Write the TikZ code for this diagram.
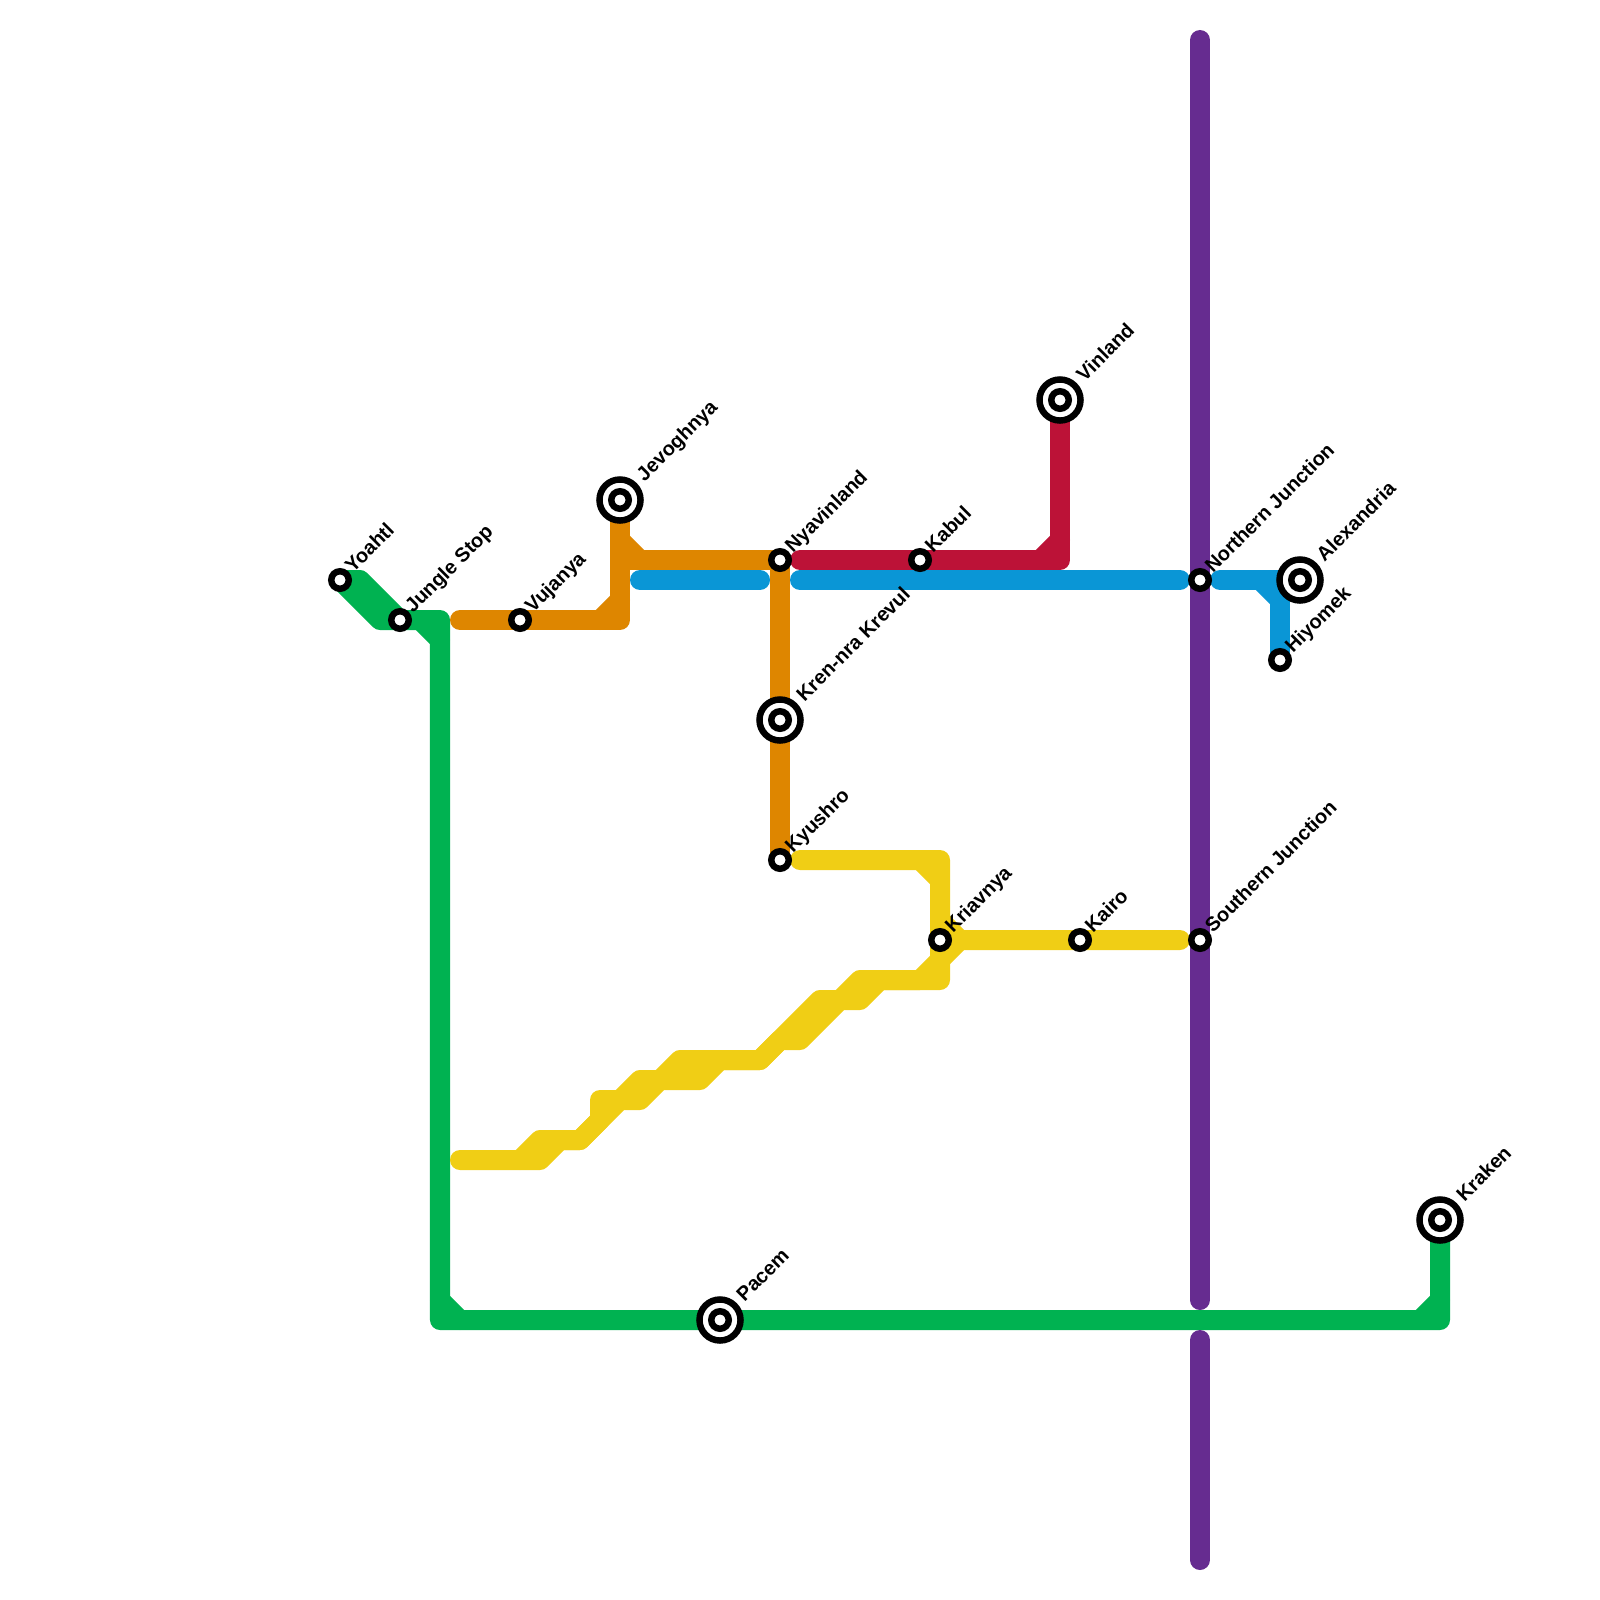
\documentclass[tikz,border=0pt]{standalone}
\usepackage{fontspec}
\usepackage{xcolor}
\setmainfont{Liberation Sans}
\usetikzlibrary{backgrounds}

\definecolor{linegreen}{HTML}{00B251}
\definecolor{lineorange}{HTML}{DE8600}
\definecolor{lineblue}{HTML}{0A96D6}
\definecolor{linered}{HTML}{BC1237}
\definecolor{linepurple}{HTML}{662C90}
\definecolor{lineyellow}{HTML}{F0CE15}

\begin{document}
\begin{tikzpicture}[
  x=0.025cm, y=-0.025cm,
  rail/.style={line width=14.23pt, line cap=round, line join=round},
  stn/.style={circle, draw=black, fill=white, line width=4.6pt, inner sep=0pt, outer sep=0pt, minimum size=12.45pt},
  hub/.style={circle, draw=black, fill=white, line width=4.6pt, inner sep=0pt, outer sep=0pt, minimum size=29.2pt},
  lbl/.style={rotate=45, anchor=base west, inner sep=0pt, font=\fontsize{14.2}{17}\selectfont\bfseries}
]
\useasboundingbox (0,0) rectangle (1600,1600);

\node[hub] (jevoghnya) at (620,500) {};
\node[hub] (vinland) at (1060,400) {};
\node[hub] (alexandria) at (1300,580) {};
\node[hub] (krennra) at (780,720) {};
\node[hub] (pacem) at (720,1320) {};
\node[hub] (kraken) at (1440,1220) {};
\node[stn] (jevoghnyain) at (jevoghnya.center) {};
\node[stn] (vinlandin) at (vinland.center) {};
\node[stn] (alexandriain) at (alexandria.center) {};
\node[stn] (krennrain) at (krennra.center) {};
\node[stn] (pacemin) at (pacem.center) {};
\node[stn] (krakenin) at (kraken.center) {};
\node[stn] (yoahtl) at (340,580) {};
\node[stn] (jungle) at (400,620) {};
\node[stn] (vujanya) at (520,620) {};
\node[stn] (nyavinland) at (780,560) {};
\node[stn] (kabul) at (920,560) {};
\node[stn] (northern) at (1200,580) {};
\node[stn] (hiyomek) at (1280,660) {};
\node[stn] (kyushro) at (780,860) {};
\node[stn] (kriavnya) at (940,940) {};
\node[stn] (kairo) at (1080,940) {};
\node[stn] (southern) at (1200,940) {};

% labels
\node[lbl] (yoahtl-l) at ([shift={(13,-6)}]yoahtl.center) {Yoahtl};
\node[lbl] (jungle-l) at ([shift={(13,-6)}]jungle.center) {Jungle Stop};
\node[lbl] (vujanya-l) at ([shift={(13,-6)}]vujanya.center) {Vujanya};
\node[lbl] (jevoghnya-l) at ([shift={(24.5,-17.5)}]jevoghnya.center) {Jevoghnya};
\node[lbl] (nyavinland-l) at ([shift={(13,-6)}]nyavinland.center) {Nyavinland};
\node[lbl] (kabul-l) at ([shift={(13,-6)}]kabul.center) {Kabul};
\node[lbl] (vinland-l) at ([shift={(24.5,-17.5)}]vinland.center) {Vinland};
\node[lbl] (northern-l) at ([shift={(13,-6)}]northern.center) {Northern Junction};
\node[lbl] (alexandria-l) at ([shift={(24.5,-17.5)}]alexandria.center) {Alexandria};
\node[lbl] (hiyomek-l) at ([shift={(13,-6)}]hiyomek.center) {Hiyomek};
\node[lbl] (krennra-l) at ([shift={(24.5,-17.5)}]krennra.center) {Kren-nra Krevul};
\node[lbl] (kyushro-l) at ([shift={(13,-6)}]kyushro.center) {Kyushro};
\node[lbl] (kriavnya-l) at ([shift={(13,-6)}]kriavnya.center) {Kriavnya};
\node[lbl] (kairo-l) at ([shift={(13,-6)}]kairo.center) {Kairo};
\node[lbl] (southern-l) at ([shift={(13,-6)}]southern.center) {Southern Junction};
\node[lbl] (pacem-l) at ([shift={(24.5,-17.5)}]pacem.center) {Pacem};
\node[lbl] (kraken-l) at ([shift={(24.5,-17.5)}]kraken.center) {Kraken};

\begin{scope}[on background layer]
% green
\draw[rail, linegreen] (yoahtl.center) -- (360,580) -- (jungle.center);
\draw[rail, linegreen] (yoahtl.center) -- (380,620) -- (440,620) -- (440,1320) -- (pacem.center) -- (1440,1320) -- (kraken.center);
\draw[rail, linegreen] (420,620) -- (440,640);
\draw[rail, linegreen] (440,1300) -- (460,1320);
\draw[rail, linegreen] (1420,1320) -- (1440,1300);

% orange
\draw[rail, lineorange] (460,620) -- (vujanya.center) -- (620,620) -- (jevoghnya.center);
\draw[rail, lineorange] (600,620) -- (620,600);
\draw[rail, lineorange] (620,540) -- (640,560);
\draw[rail, lineorange] (620,560) -- (nyavinland.center) -- (krennra.center) -- (kyushro.center);

% blue
\draw[rail, lineblue] (640,580) -- (760,580);
\draw[rail, lineblue] (800,580) -- (1180,580);
\draw[rail, lineblue] (1220,580) -- (alexandria.center);
\draw[rail, lineblue] (1280,580) -- (hiyomek.center);
\draw[rail, lineblue] (1260,580) -- (1280,600);

% red
\draw[rail, linered] (800,560) -- (kabul.center) -- (1060,560) -- (vinland.center);
\draw[rail, linered] (1040,560) -- (1060,540);

% purple
\draw[rail, linepurple] (1200,40) -- (northern.center) -- (southern.center) -- (1200,1300);
\draw[rail, linepurple] (1200,1340) -- (1200,1560);

% yellow
\draw[rail, lineyellow] (800,860) -- (940,860) -- (kriavnya.center) -- (940,980) -- (880,980) -- (860,1000) -- (840,1000) -- (800,1040) -- (780,1040) -- (760,1060) -- (720,1060) -- (700,1080) -- (660,1080) -- (640,1100) -- (620,1100) -- (580,1140) -- (560,1140) -- (540,1160) -- (460,1160);
\draw[rail, lineyellow] (520,1160) -- (540,1140) -- (580,1140) -- (600,1120) -- (600,1100) -- (620,1100) -- (640,1080) -- (660,1080) -- (680,1060) -- (760,1060) -- (820,1000) -- (840,1000) -- (860,980) -- (920,980) -- (940,960) -- (960,940);
\draw[rail, lineyellow] (920,860) -- (940,880);
\draw[rail, lineyellow] (940,920) -- (960,940) -- (kairo.center) -- (1180,940);
\end{scope}
\end{tikzpicture}
\end{document}
